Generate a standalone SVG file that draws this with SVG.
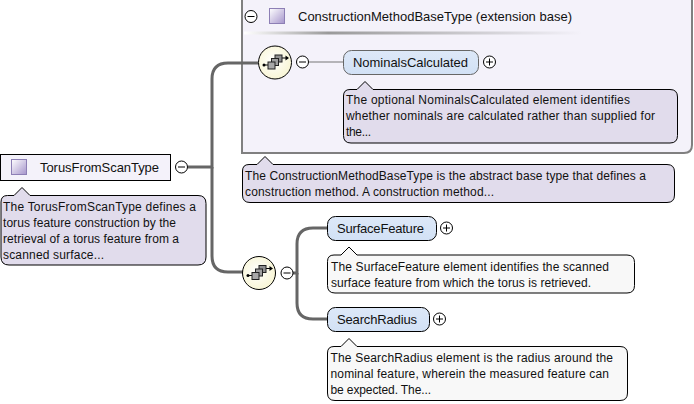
<svg xmlns="http://www.w3.org/2000/svg" width="694" height="404" viewBox="0 0 694 404">
<style>
text{font-family:"Liberation Sans",Arial,sans-serif;font-size:12px;fill:#111}
.lb{font-size:13px}
.ln{fill:none;stroke:#666;stroke-width:3}
.thin{fill:none;stroke:#777;stroke-width:1}
.el{fill:url(#elg);stroke:#000;stroke-width:1}
.note{fill:#e1dcec;stroke:#000;stroke-width:1}
.noteW{fill:#f8f8f8;stroke:#000;stroke-width:1}
.btn{fill:#fff;stroke:#000;stroke-width:1}
.sq{fill:url(#sq);stroke:#8d7fb5;stroke-width:1}
.seq{fill:url(#seq);stroke:#000;stroke-width:1}
</style>
<defs>
<linearGradient id="elg" x1="0" y1="0" x2="0" y2="1"><stop offset="0" stop-color="#dde8f8"/><stop offset="1" stop-color="#d2e1f5"/></linearGradient>
<linearGradient id="sq" x1="0" y1="0" x2="1" y2="1"><stop offset="0" stop-color="#ffffff"/><stop offset="1" stop-color="#a594cb"/></linearGradient>
<radialGradient id="seq" cx="0.45" cy="0.45" r="0.6"><stop offset="0" stop-color="#ffffff"/><stop offset="1" stop-color="#f8f5d2"/></radialGradient>
<linearGradient id="rule" x1="0" y1="0" x2="1" y2="0"><stop offset="0" stop-color="#fff"/><stop offset="0.25" stop-color="#9a9a9a"/><stop offset="1" stop-color="#f4f2fa"/></linearGradient>
<g id="plus"><circle r="6" class="btn"/><path d="M-3.500 0H3.500M0 -3.500V3.500" stroke="#000" stroke-width="1"/></g>
<g id="minus"><circle r="6" class="btn"/><path d="M-3.500 0H3.500" stroke="#000" stroke-width="1"/></g>
<g id="seqIcon">
<path d="M-11 2.500H-7M7 -4.500H11" stroke="#000" stroke-width="1"/>
<path d="M10.500 -7L14 -4.500L10.500 -2Z" fill="#000"/>
<circle cx="-11" cy="2.500" r="1.500" fill="#000"/>
<rect x="0" y="-7.500" width="7" height="7" fill="#909090" stroke="#222"/>
<rect x="-3.500" y="-4" width="7" height="7" fill="#a0a0a0" stroke="#222"/>
<rect x="-7" y="-0.500" width="7" height="7" fill="#a8a8a8" stroke="#222"/>
</g>
</defs>
<rect width="694" height="404" fill="#fff"/>

<g id="ext-box">
<path d="M242 -5V153H684Q692 153 692 145V-5Z" fill="#f4f2fa" stroke="#808080" stroke-width="2"/>
<rect x="244" y="31.500" width="338" height="3" fill="url(#rule)"/>
<use href="#minus" x="251" y="16.500"/>
<rect x="269.500" y="8.500" width="15" height="15" class="sq"/>
<text class="lb" x="298" y="21" textLength="274">ConstructionMethodBaseType (extension base)</text>
</g>

<g id="connectors">
<path class="ln" d="M188 167H212V79Q212 63 228 63H258"/>
<path class="ln" d="M212 167V256Q212 272 228 272H243"/>
<path class="thin" d="M308 62H343"/>
<path class="ln" d="M293 273H297V244Q297 228 313 228H327"/>
<path class="ln" d="M297 273V303Q297 319 313 319H327"/>
</g>

<g id="TorusFromScanType">
<rect x="0.500" y="154.500" width="170" height="26" fill="#f4f2fa" stroke="#000"/>
<rect x="11.500" y="159.500" width="15" height="15" class="sq"/>
<text class="lb" x="40" y="172" textLength="119">TorusFromScanType</text>
<use href="#minus" x="181.500" y="167"/>
<path class="note" d="M7.500 195.500H14L22 187.500L30 195.500H198Q206 195.500 206 203.500V257Q206 265 198 265H9Q1 265 1 257V202Q1 195.500 7.500 195.500Z"/>
<text x="3" y="211" textLength="193">The TorusFromScanType defines a</text>
<text x="3" y="227" textLength="173">torus feature construction by the</text>
<text x="3" y="243" textLength="176">retrieval of a torus feature from a</text>
<text x="3" y="259" textLength="101">scanned surface...</text>
</g>

<g id="seq1">
<circle cx="275" cy="62.500" r="16.500" class="seq"/>
<use href="#seqIcon" x="275" y="62.500"/>
<use href="#minus" x="302.500" y="62"/>
</g>

<g id="NominalsCalculated">
<rect x="343.500" y="50.500" width="135" height="24" rx="8" fill="url(#elg)" stroke="#666"/>
<text class="lb" x="353" y="67" textLength="115">NominalsCalculated</text>
<use href="#plus" x="489.500" y="62"/>
<path class="note" d="M350 89.500H357L365 81.500L373 89.500H670Q677.500 89.500 677.500 97V135.500Q677.500 143 670 143H351Q343.500 143 343.500 135.500V96Q343.500 89.500 350 89.500Z"/>
<text x="346" y="104" textLength="284">The optional NominalsCalculated element identifies</text>
<text x="346" y="120" textLength="309">whether nominals are calculated rather than supplied for</text>
<text x="346" y="136" textLength="25">the...</text>
</g>

<g id="ConstructionMethodBaseType-note">
<path class="note" d="M249 164.500H257L265 156.500L273 164.500H667Q674.500 164.500 674.500 172V195Q674.500 202.500 667 202.500H250Q242.500 202.500 242.500 195V171Q242.500 164.500 249 164.500Z"/>
<text x="245" y="180" textLength="401">The ConstructionMethodBaseType is the abstract base type that defines a</text>
<text x="245" y="196" textLength="249">construction method. A construction method...</text>
</g>

<g id="seq2">
<circle cx="259" cy="273" r="16.500" class="seq"/>
<use href="#seqIcon" x="259" y="273"/>
<use href="#minus" x="287" y="273"/>
</g>

<g id="SurfaceFeature">
<rect x="327.500" y="216.500" width="109" height="24" rx="8" class="el"/>
<text class="lb" x="337" y="233" textLength="87">SurfaceFeature</text>
<use href="#plus" x="446.500" y="228"/>
<path class="noteW" d="M334 255H341L349 247L357 255H627Q634.500 255 634.500 262.500V285.500Q634.500 293 627 293H335Q327.500 293 327.500 285.500V261.500Q327.500 255 334 255Z"/>
<text x="331" y="271" textLength="278">The SurfaceFeature element identifies the scanned</text>
<text x="331" y="287" textLength="260">surface feature from which the torus is retrieved.</text>
</g>

<g id="SearchRadius">
<rect x="327.500" y="307.500" width="102" height="24" rx="8" class="el"/>
<text class="lb" x="337" y="324" textLength="80">SearchRadius</text>
<use href="#plus" x="439.500" y="319"/>
<path class="noteW" d="M334 346.500H341L349 338.500L357 346.500H620Q627.500 346.500 627.500 354V393Q627.500 400.500 620 400.500H335Q327.500 400.500 327.500 393V353Q327.500 346.500 334 346.500Z"/>
<text x="330.500" y="362" textLength="282.500">The SearchRadius element is the radius around the</text>
<text x="330.500" y="378" textLength="278.500">nominal feature, wherein the measured feature can</text>
<text x="330.500" y="394" textLength="100.500">be expected. The...</text>
</g>
</svg>
